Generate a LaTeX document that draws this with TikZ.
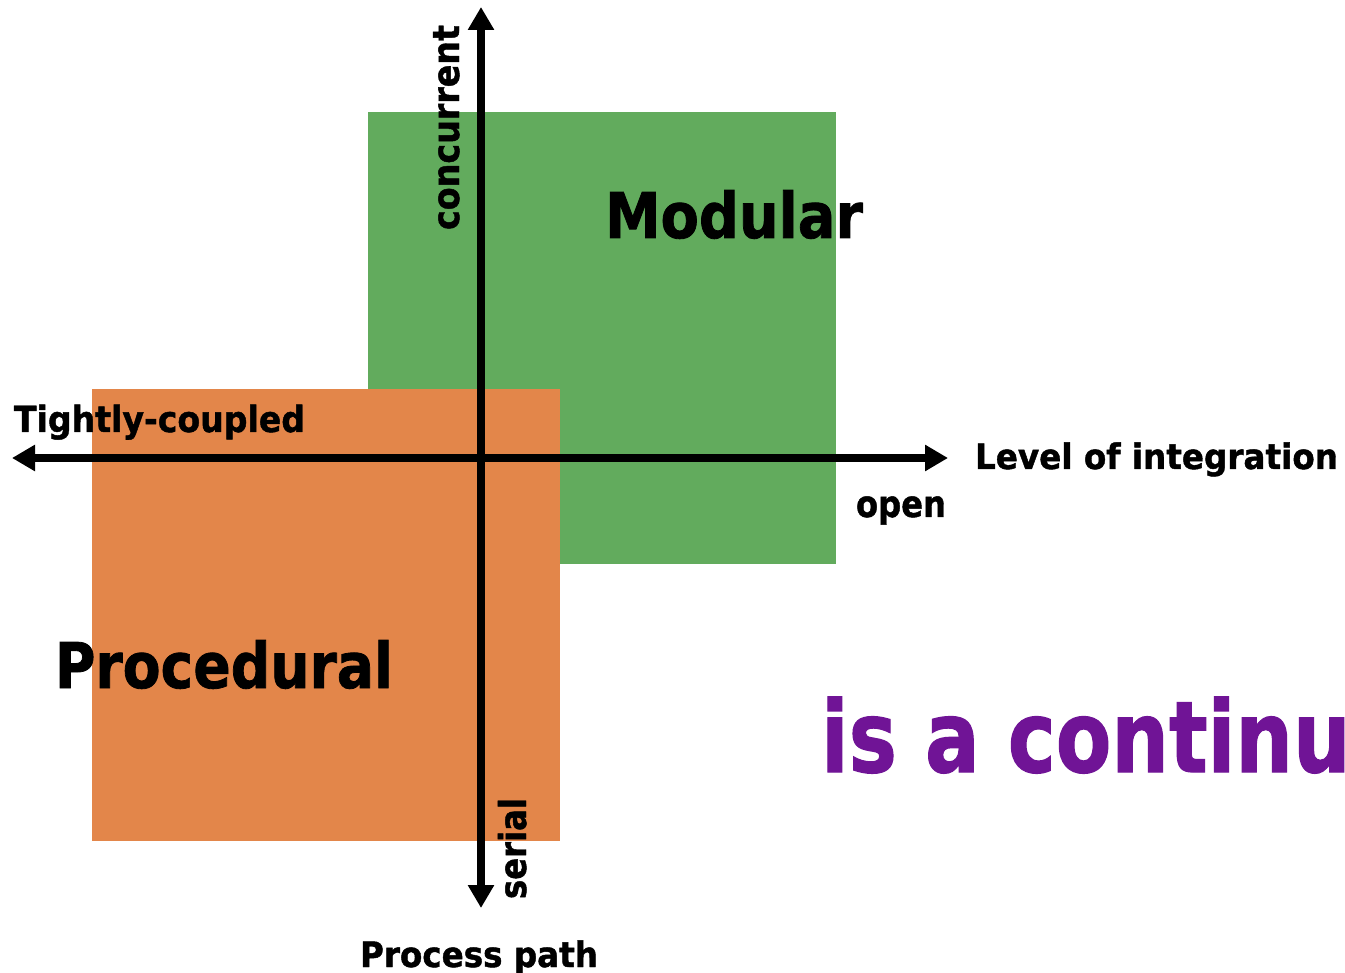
\documentclass[tikz,border=0pt]{standalone}
\usepackage{fontspec}
\setmainfont[BoldFeatures={FakeBold=1.3}]{DejaVu Sans}
\usetikzlibrary{arrows.meta}
\definecolor{modgreen}{HTML}{62AB5D}
\definecolor{procorange}{HTML}{E3864A}
\definecolor{contpurple}{HTML}{701496}
\newlength\contw
\newcommand\fw[3]{\resizebox{#1pt}{\height}{\fontsize{#2}{#2}\selectfont\bfseries #3}}
\begin{document}
\settowidth\contw{\fontsize{99}{99}\selectfont\bfseries is a contin}%
\pgfmathsetmacro\sfac{472/\contw}%
\begin{tikzpicture}[x=1pt,y=-1pt,
  lbl/.style={inner sep=0pt, outer sep=0pt, anchor=base west, text=black},
  axis/.style={line width=7.5pt, black, {Triangle[length=23pt,width=25pt]}-{Triangle[length=23pt,width=25pt]}}
]
\useasboundingbox (0,0) rectangle (1345,973);
\fill[white] (0,0) rectangle (1345,973);
% boxes
\fill[modgreen] (368,112) rectangle (836,564);
\fill[procorange] (92,389) rectangle (560,841);
% axes
\coordinate (W) at (12,458);
\coordinate (E) at (948,458);
\coordinate (N) at (481,7);
\coordinate (S) at (481,908);
\draw[axis] (W) -- (E);
\draw[axis] (N) -- (S);
% labels
\node[lbl] (tc) at (14,432) {\fw{291}{36}{Tightly-coupled}};
\node[lbl] (li) at (975,469) {\fw{363}{35}{Level of integration}};
\node[lbl] (op) at (856,517) {\fw{90}{37}{open}};
\node[lbl] (pp) at (360,967) {\fw{238}{35}{Process path}};
\node[lbl, rotate=90] (cc) at (459,230) {\fw{205}{37}{concurrent}};
\node[lbl, rotate=90] (se) at (526,899) {\fw{101}{37}{serial}};
\node[lbl] (mo) at (605,238) {\fw{258}{63}{Modular}};
\node[lbl] (pr) at (55,688) {\fw{338}{63}{Procedural}};
\node[lbl, text=contpurple] (co) at (821,772) {\scalebox{\sfac}[1]{\fontsize{99}{99}\selectfont\bfseries is a continuum}};
\end{tikzpicture}
\end{document}
